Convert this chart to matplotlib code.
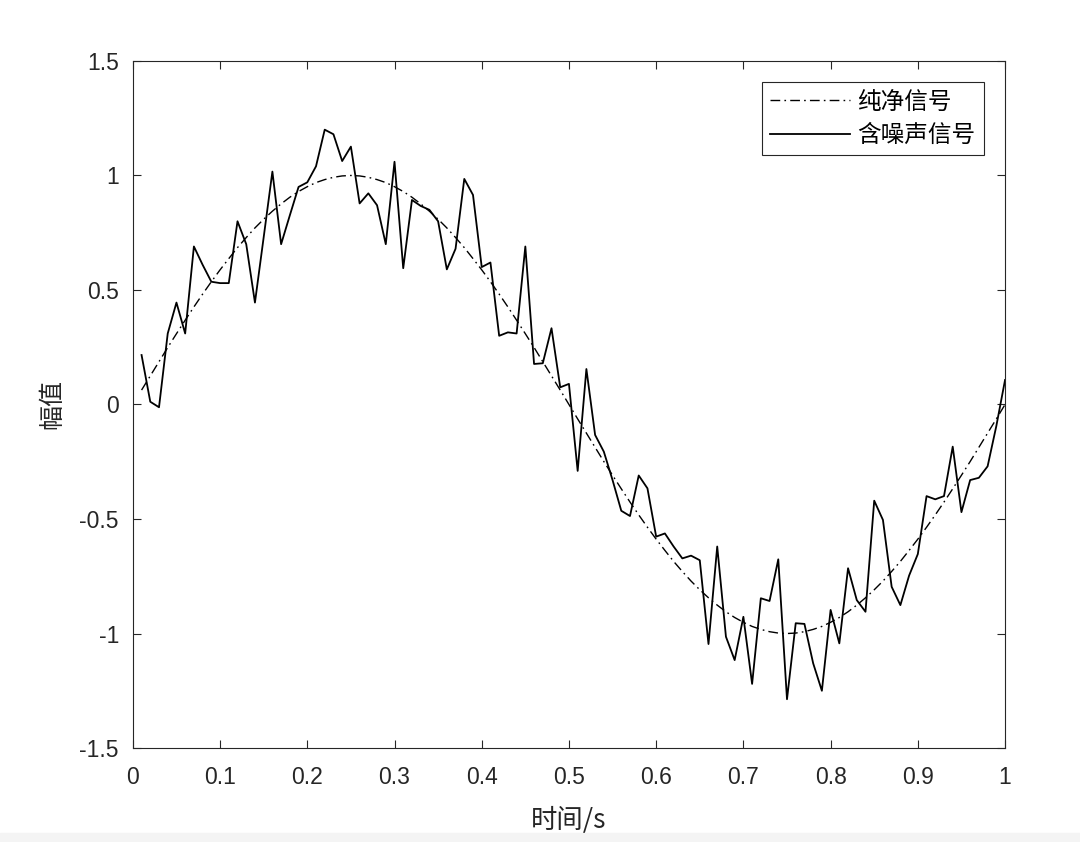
import matplotlib
matplotlib.use('Agg')
import matplotlib.pyplot as plt
import numpy as np

plt.rcParams['font.family'] = ['Liberation Sans', 'Noto Sans CJK SC', 'DejaVu Sans']

# sample times (0.01 s step)
t = np.arange(1, 101) / 100

# clean signal values
clean = [0.063, 0.125, 0.187, 0.249, 0.309, 0.368, 0.426, 0.482, 0.536, 0.588,
         0.637, 0.685, 0.729, 0.771, 0.809, 0.844, 0.876, 0.905, 0.930, 0.951,
         0.969, 0.982, 0.992, 0.998, 1.000, 0.998, 0.992, 0.982, 0.969, 0.951,
         0.930, 0.905, 0.876, 0.844, 0.809, 0.771, 0.729, 0.685, 0.637, 0.588,
         0.536, 0.482, 0.426, 0.368, 0.309, 0.249, 0.187, 0.125, 0.063, 0.000,
         -0.063, -0.125, -0.187, -0.249, -0.309, -0.368, -0.426, -0.482, -0.536, -0.588,
         -0.637, -0.685, -0.729, -0.771, -0.809, -0.844, -0.876, -0.905, -0.930, -0.951,
         -0.969, -0.982, -0.992, -0.998, -1.000, -0.998, -0.992, -0.982, -0.969, -0.951,
         -0.930, -0.905, -0.876, -0.844, -0.809, -0.771, -0.729, -0.685, -0.637, -0.588,
         -0.536, -0.482, -0.426, -0.368, -0.309, -0.249, -0.187, -0.125, -0.063, 0.000]

# noisy signal values
noisy = [0.216, 0.012, -0.012, 0.31, 0.445, 0.31, 0.69, 0.61, 0.536, 0.53,
         0.53, 0.80, 0.70, 0.445, 0.73, 1.017, 0.70, 0.826, 0.95, 0.97,
         1.04, 1.20, 1.18, 1.063, 1.126, 0.878, 0.922, 0.87, 0.70, 1.06,
         0.595, 0.893, 0.867, 0.85, 0.80, 0.59, 0.68, 0.985, 0.915, 0.60,
         0.62, 0.30, 0.315, 0.31, 0.69, 0.177, 0.18, 0.333, 0.075, 0.09,
         -0.29, 0.155, -0.133, -0.206, -0.33, -0.464, -0.487, -0.31, -0.366, -0.577,
         -0.563, -0.62, -0.672, -0.66, -0.68, -1.046, -0.62, -1.014, -1.116, -0.927,
         -1.22, -0.846, -0.858, -0.676, -1.287, -0.955, -0.958, -1.13, -1.25, -0.897,
         -1.043, -0.715, -0.854, -0.905, -0.42, -0.504, -0.796, -0.876, -0.747, -0.653,
         -0.40, -0.414, -0.40, -0.184, -0.47, -0.33, -0.32, -0.27, -0.094, 0.107]

xticks = [0, 0.1, 0.2, 0.3, 0.4, 0.5, 0.6, 0.7, 0.8, 0.9, 1]
xticklabels = ['0', '0.1', '0.2', '0.3', '0.4', '0.5', '0.6', '0.7', '0.8', '0.9', '1']
yticks = [-1.5, -1, -0.5, 0, 0.5, 1, 1.5]
yticklabels = ['-1.5', '-1', '-0.5', '0', '0.5', '1', '1.5']

cjk = ['Noto Sans CJK SC', 'DejaVu Sans']
dark = '#262626'

fig = plt.figure(figsize=(10.8, 8.42), dpi=100)
fig.patches.append(plt.Rectangle((0, 0), 1, 9 / 842, transform=fig.transFigure,
                                 color='#f4f4f4', zorder=0))
ax = fig.add_axes([0.123, 0.1116, 0.8076, 0.816])

ax.plot(t, clean, color='black', lw=1.0, linestyle=(0, (7, 3, 1.2, 3)), label='纯净信号')
ax.plot(t, noisy, color='black', lw=1.3, label='含噪声信号')

ax.set_xlim(0, 1)
ax.set_ylim(-1.5, 1.5)
ax.set_xticks(xticks)
ax.set_xticklabels(xticklabels)
ax.set_yticks(yticks)
ax.set_yticklabels(yticklabels)
ax.tick_params(direction='in', top=True, right=True, length=6, width=0.8,
               labelsize=16.5, colors=dark)
ax.tick_params(axis='x', pad=13)
ax.tick_params(axis='y', pad=10)
for s in ax.spines.values():
    s.set_color(dark)
    s.set_linewidth(0.8)

ax.set_xlabel('时间/s', family=cjk, fontsize=19, color=dark, labelpad=13)
ax.set_ylabel('幅值', family=cjk, fontsize=18, color=dark, labelpad=10)

leg = ax.legend(loc='upper right', prop={'family': cjk, 'size': 17}, fancybox=False,
                edgecolor=dark, framealpha=1, borderaxespad=0.9, handlelength=3.4,
                handletextpad=0.3, borderpad=0.35, labelspacing=0.45)
leg.get_frame().set_linewidth(0.8)

fig.savefig('out.png', dpi=100)
